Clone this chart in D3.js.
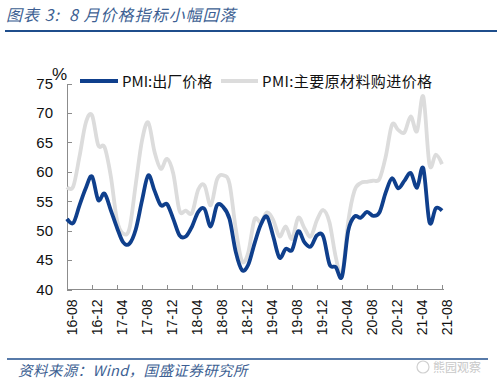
<!DOCTYPE html>
<html lang="zh">
<head>
<meta charset="utf-8">
<title>8月价格指标小幅回落</title>
<script src="https://cdn.jsdelivr.net/npm/d3@7"></script>
<style>
  body { margin: 0; background: #fff; }
  svg { display: block; }
  .axis path, .axis line { stroke: #8c8c8c; stroke-width: 1; shape-rendering: crispEdges; }
  .axis text { font: 14px "Liberation Sans", Arial, sans-serif; fill: #111; }
  .ylab text { font-size: 15px; }
  .lg { font: 15px "Noto Sans CJK SC", sans-serif; fill: #111; }
</style>
</head>
<body>
<svg width="500" height="387"></svg>
<script>
// monthly labels 16-08 .. 21-08
var months = [];
for (var yr = 16; yr <= 21; yr++) {
  for (var m = 1; m <= 12; m++) {
    if ((yr === 16 && m < 8) || (yr === 21 && m > 8)) continue;
    months.push(yr + "-" + (m < 10 ? "0" + m : m));
  }
}
var tickLabels = months.filter(function(d, i) { return i % 4 === 0; });
var yTicks = [40, 45, 50, 55, 60, 65, 70, 75];

// PMI: 出厂价格
var outputPrice = [
  52.0, 51.3, 54.3, 57.2, 59.2, 55.2, 56.3, 53.5, 50.5, 48.0, 47.8, 50.2, 55.1,
  59.4, 56.8, 54.3, 54.5, 52.0, 49.2, 49.0, 50.7, 53.2, 53.7, 50.7, 54.3,
  54.0, 52.0, 46.4, 43.3, 44.2, 47.8, 51.0, 52.4, 49.0, 45.4, 46.9, 46.7,
  49.9, 48.0, 47.3, 49.2, 49.0, 44.3, 43.8, 42.2, 50.0, 52.4, 52.2, 53.2,
  52.5, 53.1, 56.5, 58.9, 57.2, 58.5, 59.8, 57.3, 60.6, 51.4, 53.8, 53.4
];
// PMI: 主要原材料购进价格
var inputPrice = [
  57.4, 57.5, 62.6, 68.3, 69.6, 64.5, 64.2, 59.3, 51.8, 49.5, 50.4, 57.9, 65.3,
  68.4, 63.4, 60.5, 62.2, 59.7, 53.4, 53.4, 53.0, 57.0, 57.7, 54.3, 58.7,
  59.4, 58.0, 50.3, 44.8, 46.3, 51.9, 51.4, 53.1, 51.8, 49.0, 50.7, 48.6,
  52.2, 50.4, 49.0, 51.8, 53.5, 51.4, 45.5, 42.5, 51.6, 56.8, 58.1, 58.3,
  58.5, 58.8, 62.6, 68.0, 67.1, 66.7, 69.4, 66.9, 72.8, 61.2, 62.9, 61.3
];
var seriesNames = ["PMI:出厂价格", "PMI:主要原材料购进价格"];

var svg = d3.select("svg");
var blue = "#0f3f8c", grey = "#dcdcdc", titleCol = "#3d5f93";

// title and rules
svg.append("text").attr("x", 6).attr("y", 21)
  .style("font", "italic 16px 'Noto Sans CJK SC', sans-serif")
  .style("fill", titleCol).style("letter-spacing", "1px")
  .style("white-space", "pre")
  .text("图表 3:  8 月价格指标小幅回落");
svg.append("line").attr("x1", 5).attr("x2", 497).attr("y1", 31).attr("y2", 31)
  .attr("stroke", "#1f4e8c").attr("stroke-width", 2);
svg.append("line").attr("x1", 7).attr("x2", 488).attr("y1", 359).attr("y2", 359)
  .attr("stroke", "#1f4e8c").attr("stroke-width", 1.5);
svg.append("text").attr("x", 18).attr("y", 376)
  .style("font", "italic 14.5px 'Noto Sans CJK SC', sans-serif")
  .style("fill", titleCol).style("letter-spacing", "0.4px")
  .text("资料来源：Wind，国盛证券研究所");
svg.append("text").attr("x", 433).attr("y", 372)
  .style("font", "12px 'Noto Sans CJK SC', sans-serif")
  .style("fill", "#c8c8c8")
  .text("熊园观察");
svg.append("circle").attr("cx", 423).attr("cy", 367).attr("r", 6)
  .attr("fill", "none").attr("stroke", "#d0d0d0").attr("stroke-width", 1.2);

var x = d3.scalePoint().domain(months).range([67, 442]);
var y = d3.scaleLinear().domain([40, 75]).range([289.5, 83.5]);

var gx = svg.append("g").attr("class", "axis")
  .attr("transform", "translate(0,289.5)")
  .call(d3.axisBottom(x).tickValues(tickLabels).tickSize(-5).tickSizeOuter(0));
gx.select(".domain").attr("d", "M67,0H444");
gx.selectAll("text")
  .attr("transform", "rotate(-90)")
  .attr("x", -10).attr("y", 0).attr("dy", "0.68em")
  .style("text-anchor", "end");

var gy = svg.append("g").attr("class", "axis ylab")
  .attr("transform", "translate(67,0)")
  .call(d3.axisLeft(y).tickValues(yTicks).tickSize(-5).tickSizeOuter(0).tickPadding(14));

svg.append("text").attr("x", 52).attr("y", 80)
  .style("font", "17px 'Liberation Sans', Arial, sans-serif").style("fill", "#111")
  .text("%");

var line = d3.line()
  .x(function(d, i) { return x(months[i]); })
  .y(function(d) { return y(d); })
  .curve(d3.curveCardinal.tension(0));

svg.append("path").datum(inputPrice).attr("d", line)
  .attr("fill", "none").attr("stroke", grey).attr("stroke-width", 3.8)
  .attr("stroke-linejoin", "round");
svg.append("path").datum(outputPrice).attr("d", line)
  .attr("fill", "none").attr("stroke", blue).attr("stroke-width", 3.8)
  .attr("stroke-linejoin", "round");

// legend
var lg = svg.append("g");
lg.append("line").attr("x1", 80).attr("x2", 118).attr("y1", 81).attr("y2", 81)
  .attr("stroke", blue).attr("stroke-width", 3.8);
lg.append("text").attr("class", "lg").attr("x", 122).attr("y", 87).text(seriesNames[0]);
lg.append("line").attr("x1", 221).attr("x2", 258).attr("y1", 81).attr("y2", 81)
  .attr("stroke", grey).attr("stroke-width", 3.8);
lg.append("text").attr("class", "lg").attr("x", 262).attr("y", 87)
  .style("letter-spacing", "0.4px").text(seriesNames[1]);
</script>
</body>
</html>
